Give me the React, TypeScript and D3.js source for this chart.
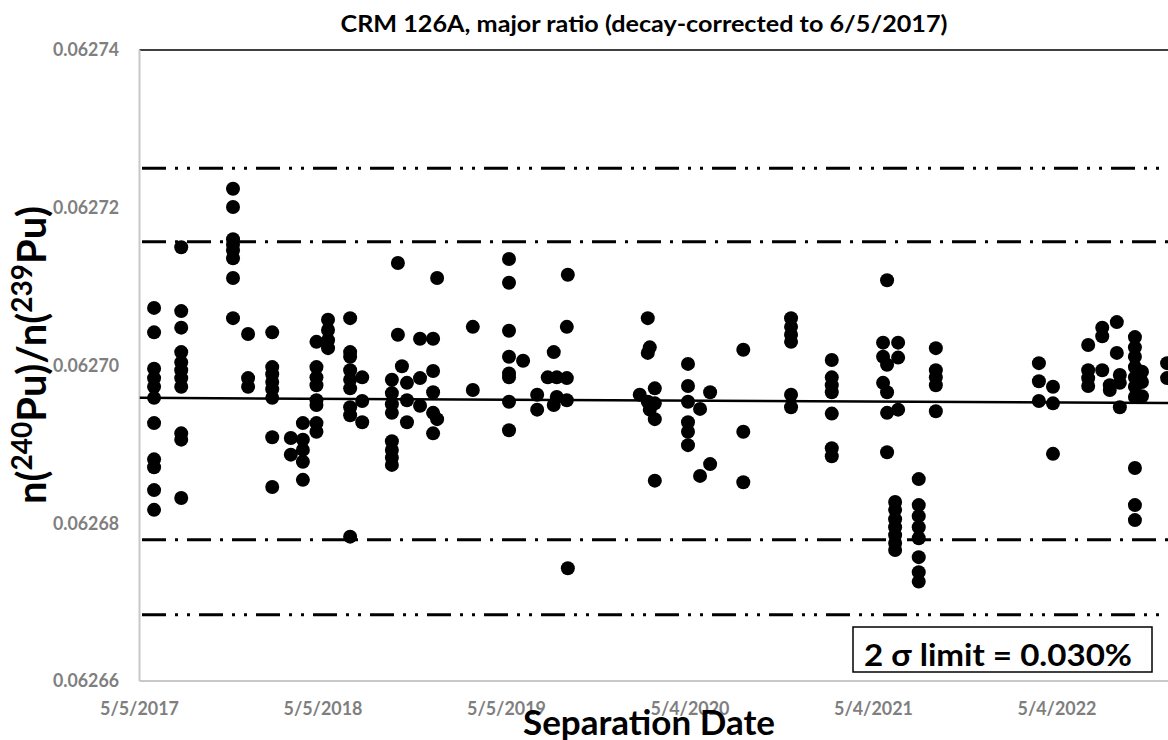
import React from "react";
import * as d3 from "d3";

const chartTitle = "CRM 126A, major ratio (decay-corrected to 6/5/2017)";
const xAxisTitle = "Separation Date";
const xTickLabels = ["5/5/2017", "5/5/2018", "5/5/2019", "5/4/2020", "5/4/2021", "5/4/2022"];
const yTickValues = [0.06266, 0.06268, 0.0627, 0.06272, 0.06274];
const limitLabel = "2 \u03c3 limit = 0.030%";

const separationDates = [
  "2017-06-03", "2017-07-27", "2017-11-07", "2017-12-07", "2018-01-24", "2018-03-02",
  "2018-03-26", "2018-04-22", "2018-05-15", "2018-06-28", "2018-07-22", "2018-09-19",
  "2018-10-01", "2018-10-09", "2018-10-19", "2018-11-14", "2018-12-10", "2018-12-18",
  "2019-02-27", "2019-05-10", "2019-06-07", "2019-07-05", "2019-07-26", "2019-08-07",
  "2019-08-13", "2019-09-02", "2019-09-04", "2020-01-25", "2020-02-10", "2020-02-14",
  "2020-02-24", "2020-04-30", "2020-05-24", "2020-06-13", "2020-08-18", "2020-11-21",
  "2021-02-10", "2021-05-23", "2021-05-31", "2021-06-16", "2021-06-22", "2021-08-02",
  "2021-09-05", "2022-03-29", "2022-04-26", "2022-07-05", "2022-08-02", "2022-08-17",
  "2022-08-31", "2022-09-06", "2022-10-06", "2022-10-20", "2022-12-09",
];

const ratioValues = [
  [0.0627073, 0.0627042, 0.0626996, 0.0626984, 0.0626973, 0.0626959, 0.0626927, 0.0626881, 0.0626871, 0.0626842, 0.0626817],
  [0.062715, 0.0627069, 0.0627048, 0.0627017, 0.0627004, 0.0626994, 0.0626984, 0.0626973, 0.0626914, 0.0626906, 0.0626832],
  [0.0627224, 0.0627201, 0.062716, 0.0627153, 0.0627146, 0.0627136, 0.0627111, 0.062706],
  [0.062704, 0.0626984, 0.0626973],
  [0.0627042, 0.0626998, 0.0626989, 0.0626979, 0.062697, 0.0626959, 0.0626909, 0.0626846],
  [0.0626908, 0.0626887],
  [0.0626927, 0.0626906, 0.0626893, 0.0626878, 0.0626855],
  [0.062703, 0.0626998, 0.0626985, 0.0626975, 0.0626956, 0.062695, 0.0626927, 0.0626916],
  [0.0627058, 0.0627045, 0.0627032, 0.0627022],
  [0.062706, 0.0627017, 0.0627011, 0.0626994, 0.0626982, 0.0626971, 0.0626947, 0.0626937, 0.0626783],
  [0.0626985, 0.0626955, 0.0626928],
  [0.0626982, 0.0626965, 0.0626951, 0.062694, 0.0626904, 0.0626893, 0.0626883, 0.0626874],
  [0.062713, 0.0627039],
  [0.0626999],
  [0.0626978, 0.0626956, 0.0626928],
  [0.0627034, 0.0626984, 0.0626949],
  [0.0627034, 0.0626993, 0.0626966, 0.062694, 0.0626914],
  [0.0627111, 0.0626932],
  [0.0627049, 0.0626969],
  [0.0627135, 0.0627105, 0.0627044, 0.0627011, 0.062699, 0.0626985, 0.0626954, 0.0626918],
  [0.0627006],
  [0.0626963, 0.0626944],
  [0.0626985],
  [0.0627017, 0.062695],
  [0.0626985, 0.062696],
  [0.0627049, 0.0626984, 0.0626956],
  [0.0627115, 0.0626743],
  [0.0626963],
  [0.062706, 0.0627016, 0.0626954],
  [0.0627023, 0.0626944],
  [0.0626971, 0.0626952, 0.0626932, 0.0626854],
  [0.0627002, 0.0626974, 0.0626954, 0.0626928, 0.0626916, 0.0626899],
  [0.0626945, 0.062686],
  [0.0626966, 0.0626875],
  [0.062702, 0.0626916, 0.0626852],
  [0.062706, 0.0627049, 0.0627039, 0.062703, 0.0626963, 0.0626947],
  [0.0627007, 0.0626985, 0.0626975, 0.0626966, 0.0626939, 0.0626895, 0.0626885],
  [0.0627029, 0.0627011, 0.0626978],
  [0.0627108, 0.0627001, 0.0626966, 0.062694, 0.062689],
  [0.0626827, 0.0626817, 0.0626805, 0.0626795, 0.0626785, 0.0626775, 0.0626766],
  [0.0627029, 0.062701, 0.0626944],
  [0.0626856, 0.0626823, 0.0626809, 0.0626795, 0.0626781, 0.0626757, 0.0626738, 0.0626726],
  [0.0627022, 0.0626994, 0.0626985, 0.0626975, 0.0626942],
  [0.0627003, 0.062698, 0.0626955],
  [0.0626973, 0.0626952, 0.0626888],
  [0.0627026, 0.0626994, 0.0626984, 0.0626974],
  [0.0627048, 0.0627037, 0.0626994],
  [0.0626975, 0.0626969],
  [0.0627055, 0.0627016],
  [0.0626988, 0.0626978, 0.0626947],
  [0.0627036, 0.0627023, 0.0627011, 0.0626998, 0.0626985, 0.0626973, 0.062696, 0.062687, 0.0626823, 0.0626804],
  [0.0626992, 0.0626979, 0.0626961],
  [0.0627003, 0.0626984],
];

// fitted mean line (start / end)
const meanLineDates = ["2017-05-05", "2023-05-05"];
const meanLineValues = [0.0626959, 0.0626952];

// limit lines: +3s, +2s, -2s, -3s
const limitLineDates = ["2017-05-10", "2023-05-05"];
const limitLevels = [0.062725, 0.0627157, 0.0626779, 0.0626684];
const limitKinds = ["3s", "2s", "2s", "3s"];

const FONT = "Lato, 'Open Sans', 'DejaVu Sans', sans-serif";
const W = 1168;
const H = 740;
const PLOT_LEFT = 139.5;
const PLOT_TOP = 50;
const PLOT_BOTTOM = 681;
const PX_PER_DAY = 183.5 / 365;
const DAY = 86400000;

const parseIso = (s: string) => {
  const [yy, mm, dd] = s.split("-").map(Number);
  return new Date(Date.UTC(yy, mm - 1, dd));
};
const parseTick = (s: string) => {
  const [mm, dd, yy] = s.split("/").map(Number);
  return new Date(Date.UTC(yy, mm - 1, dd));
};

export default function App() {
  const start = parseTick(xTickLabels[0]);
  const spanDays = 2200;
  const x = d3
    .scaleUtc()
    .domain([start, new Date(start.getTime() + spanDays * DAY)])
    .range([PLOT_LEFT, PLOT_LEFT + spanDays * PX_PER_DAY]);
  const y = d3.scaleLinear().domain([0.06266, 0.06274]).range([PLOT_BOTTOM, PLOT_TOP]);
  const fmt = d3.format(".5f");

  const points: { d: Date; v: number }[] = [];
  separationDates.forEach((ds, i) => {
    const d = parseIso(ds);
    ratioValues[i].forEach((v) => points.push({ d, v }));
  });

  const line = d3
    .line<{ d: Date; v: number }>()
    .x((p) => x(p.d))
    .y((p) => y(p.v));

  const meanPath = line(meanLineDates.map((ds, i) => ({ d: parseIso(ds), v: meanLineValues[i] })));

  return (
    <svg
      width={W}
      height={H}
      style={{ position: "absolute", left: 0, top: 0, display: "block", background: "#fff" }}
      fontFamily={FONT}
    >
      <rect x={0} y={0} width={W} height={H} fill="#fff" />
      <defs>
        <clipPath id="plotClip">
          <rect x={PLOT_LEFT} y={0} width={W} height={H} />
        </clipPath>
      </defs>

      {/* title */}
      <text x={644} y={32} textAnchor="middle" fontSize={23} fontWeight="bold" fill="#000" textLength={607} lengthAdjust="spacingAndGlyphs">
        {chartTitle}
      </text>

      {/* top border of plot area */}
      <line x1={PLOT_LEFT} x2={W} y1={PLOT_TOP} y2={PLOT_TOP} stroke="#000" strokeWidth={1.5} />

      {/* axes */}
      <line x1={PLOT_LEFT} x2={PLOT_LEFT} y1={PLOT_TOP} y2={PLOT_BOTTOM} stroke="#c8c8c8" strokeWidth={2} />
      <line x1={PLOT_LEFT} x2={W} y1={PLOT_BOTTOM} y2={PLOT_BOTTOM} stroke="#c8c8c8" strokeWidth={2} />

      {/* y tick labels */}
      {yTickValues.map((v) => (
        <text key={v} x={119} y={y(v)} dy="0.36em" textAnchor="end" fontSize={18} fontWeight="bold" fill="#7f7f7f" textLength={66} lengthAdjust="spacingAndGlyphs">
          {fmt(v)}
        </text>
      ))}

      {/* x tick labels */}
      {xTickLabels.map((t) => (
        <text key={t} x={x(parseTick(t))} y={715} textAnchor="middle" fontSize={18} fontWeight="bold" fill="#7f7f7f" textLength={79} lengthAdjust="spacingAndGlyphs">
          {t}
        </text>
      ))}

      <g clipPath="url(#plotClip)">
        {/* limit lines */}
        {limitLevels.map((v, i) => (
          <line
            key={i}
            x1={x(parseIso(limitLineDates[0]))}
            x2={x(parseIso(limitLineDates[1]))}
            y1={y(v)}
            y2={y(v)}
            stroke="#000"
            strokeWidth={3}
            strokeDasharray={limitKinds[i] === "3s" ? "24 9 3 9 3 9" : "24 9 3 9"}
          />
        ))}
        {/* mean line */}
        <path d={meanPath || ""} fill="none" stroke="#000" strokeWidth={2.5} />
        {/* data points */}
        {points.map((p, i) => (
          <circle key={i} cx={x(p.d)} cy={y(p.v)} r={7} fill="#000" />
        ))}
      </g>

      {/* limit annotation box */}
      <rect x={853} y={627} width={299} height={45} fill="#fff" stroke="#000" strokeWidth={1.5} />
      <text x={864} y={666} fontSize={31} fontWeight="bold" fill="#000" textLength={268} lengthAdjust="spacingAndGlyphs">
        {limitLabel}
      </text>

      {/* axis titles */}
      <text x={649} y={735} textAnchor="middle" fontSize={34} fontWeight="bold" fill="#000" textLength={252} lengthAdjust="spacingAndGlyphs">
        {xAxisTitle}
      </text>
      <text transform={`translate(46, 355) rotate(-90)`} textAnchor="middle" fontSize={40} fontWeight="bold" fill="#000">
        n(<tspan fontSize={28} dy={-14}>240</tspan>
        <tspan dy={14}>Pu)/n(</tspan>
        <tspan fontSize={28} dy={-14}>239</tspan>
        <tspan dy={14}>Pu)</tspan>
      </text>
    </svg>
  );
}
